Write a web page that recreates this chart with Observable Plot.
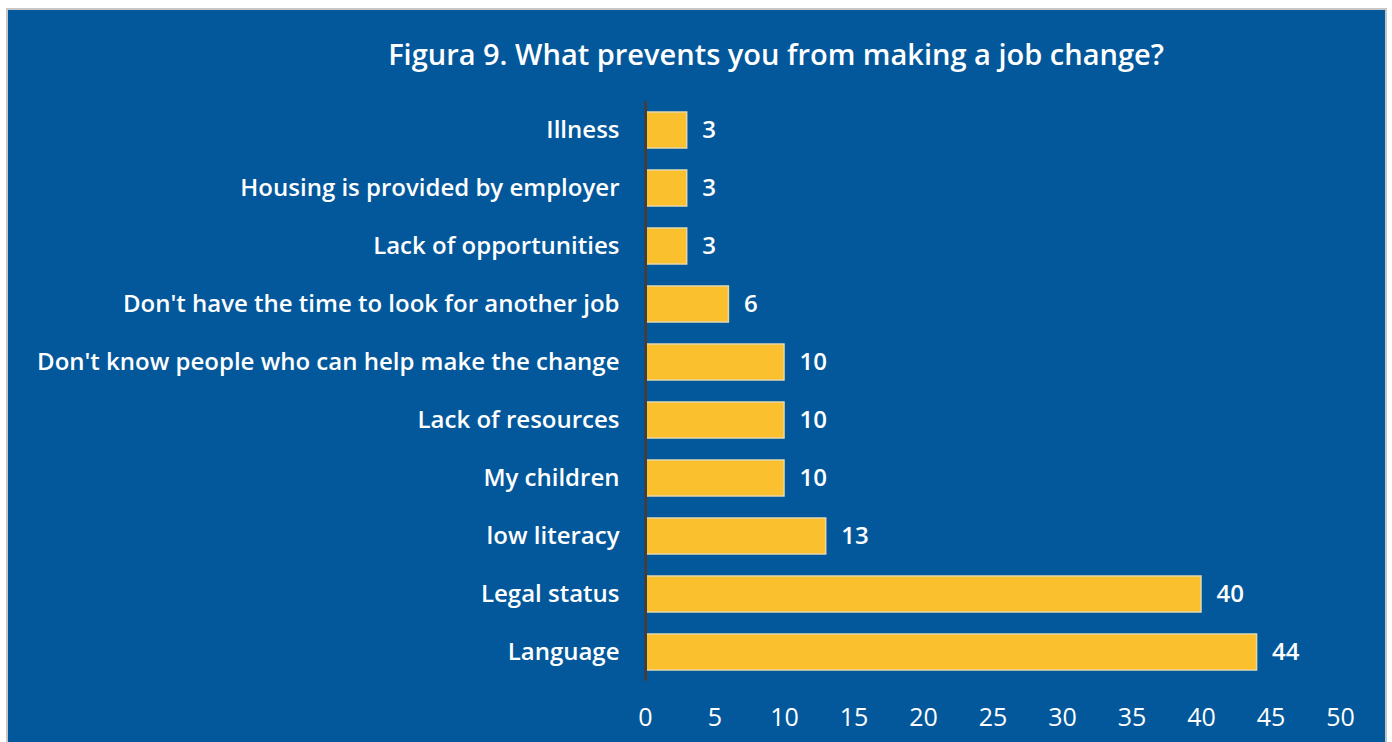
<!DOCTYPE html>
<html>
<head>
<meta charset="utf-8">
<script src="https://cdn.jsdelivr.net/npm/d3@7"></script>
<script src="https://cdn.jsdelivr.net/npm/@observablehq/plot@0.6"></script>
<style>
  html, body { margin: 0; padding: 0; background: #ffffff; }
  #wrap { position: relative; width: 1392px; height: 742px; overflow: hidden; background: #ffffff; }
  #panel { position: absolute; left: 6px; top: 8px; width: 1377px; height: 740px; background: #03589b; border: 2px solid #c6c6c6; }
  #title { position: absolute; left: 0; top: 34px; width: 1552px; text-align: center; color: #ffffff;
           font-family: "Open Sans", Lato, sans-serif; font-size: 29px; font-weight: 600; }
  #chart { position: absolute; left: 0; top: 0; }
  #chart svg { background: transparent; }
</style>
</head>
<body>
<div id="wrap">
  <div id="panel"></div>
  <div id="title">Figura 9. What prevents you from making a job change?</div>
  <div id="chart"></div>
</div>
<script>
const categories = [
  "Illness",
  "Housing is provided by employer",
  "Lack of opportunities",
  "Don't have the time to look for another job",
  "Don't know people who can help make the change",
  "Lack of resources",
  "My children",
  "low literacy",
  "Legal status",
  "Language"
];
const values = [3, 3, 3, 6, 10, 10, 10, 13, 40, 44];
const xTicks = [0, 5, 10, 15, 20, 25, 30, 35, 40, 45, 50];

const data = categories.map((c, i) => ({category: c, value: values[i]}));

const chart = Plot.plot({
  width: 1392,
  height: 742,
  marginLeft: 645,
  marginRight: 52,
  marginTop: 101,
  marginBottom: 61,
  style: {
    background: "transparent",
    color: "#ffffff",
    fontFamily: "'Open Sans', Lato, sans-serif",
    fontSize: "24px"
  },
  x: { domain: [0, 50], ticks: xTicks, label: null },
  y: { domain: categories, paddingInner: 0.38, paddingOuter: 0.19, label: null },
  marks: [
    Plot.barX(data, { x: "value", y: "category", fill: "#fbc02d", stroke: "#e6d7ab", strokeWidth: 1.5 }),
    Plot.ruleX([0], { stroke: "#3f3f3f", strokeWidth: 3 }),
    Plot.axisX({ ticks: xTicks, tickSize: 0, tickPadding: 27, fontSize: 25, fill: "#ffffff", label: null }),
    Plot.axisY({ tickSize: 0, tickPadding: 26, fontSize: 24, fontWeight: 600, fill: "#ffffff", label: null }),
    Plot.text(data, { x: "value", y: "category", text: d => String(d.value), textAnchor: "start", dx: 15, fill: "#ffffff", fontSize: 24, fontWeight: 600 })
  ]
});
document.getElementById("chart").appendChild(chart);
</script>
</body>
</html>
